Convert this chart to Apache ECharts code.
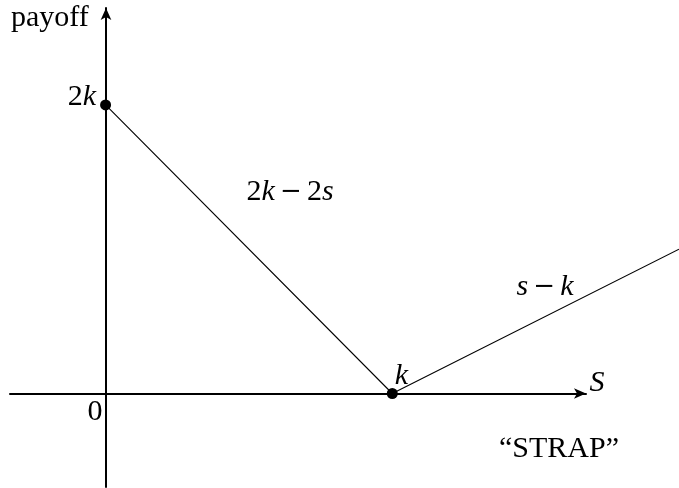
<!DOCTYPE html>
<html>
<head>
<meta charset="utf-8">
<script src="https://cdn.jsdelivr.net/npm/echarts@6/dist/echarts.min.js"></script>
<style>
  html, body { margin: 0; padding: 0; background: #fff; }
  #main { width: 679px; height: 488px; }
</style>
</head>
<body>
<div id="main"></div>
<script>
// payoff of a strap, with k = 1
const payoffS = [0, 1, 2];
const payoffY = [2, 0, 1];
const keyPoints = [
  { x: 0, y: 2, label: "{n|2}{i|k}", pos: "left" },
  { x: 1, y: 0, label: "{i|k}", pos: "top" },
];

const serif = "'Liberation Serif', 'DejaVu Serif', serif";
const fs = 30;

const mathRich = {
  n: { fontFamily: serif, fontSize: fs, color: "#000" },
  i: { fontFamily: serif, fontSize: fs, fontStyle: "italic", color: "#000" },
  m: { fontFamily: "'DejaVu Serif', serif", fontSize: 26, color: "#000" },
};

const hiddenAxis = {
  type: "value",
  axisLine: { show: false },
  axisTick: { show: false },
  axisLabel: { show: false },
  splitLine: { show: false },
};

const drawnAxis = {
  type: "value",
  axisLine: {
    onZero: true,
    symbol: ["none", "arrow"],
    symbolSize: [8, 12],
    lineStyle: { color: "#000", width: 2 },
  },
  axisTick: { show: false },
  axisLabel: { show: false },
  splitLine: { show: false },
};

const chart = echarts.init(document.getElementById("main"));

const options = {
  backgroundColor: "#fff",
  animation: false,
  grid: [
    // grid 0 carries the arrowed axes, grid 1 the payoff line (same scale)
    { left: 10, width: 576, top: 8, height: 479 },
    { left: 10, width: 672, top: 8, height: 479 },
  ],
  xAxis: [
    { ...drawnAxis, gridIndex: 0, min: -1 / 3, max: 5 / 3 },
    { ...hiddenAxis, gridIndex: 1, min: -1 / 3, max: 2 },
  ],
  yAxis: [
    { ...drawnAxis, gridIndex: 0, min: -0.648, max: 2.672 },
    { ...hiddenAxis, gridIndex: 1, min: -0.648, max: 2.672 },
  ],
  series: [
    {
      type: "line",
      xAxisIndex: 1,
      yAxisIndex: 1,
      data: payoffS.map((s, i) => [s, payoffY[i]]),
      clip: false,
      showSymbol: false,
      lineStyle: { color: "#000", width: 1.1 },
      z: 3,
    },
    {
      type: "scatter",
      xAxisIndex: 1,
      yAxisIndex: 1,
      data: keyPoints.map((p) => ({
        value: [p.x, p.y],
        label: {
          show: true,
          position: p.pos,
          distance: p.pos === "left" ? 4 : 1,
          offset: p.pos === "top" ? [9, 4] : [0, -8],
          formatter: p.label,
          color: "#000",
          rich: mathRich,
        },
      })),
      symbol: "circle",
      symbolSize: 11,
      itemStyle: { color: "#000", opacity: 1 },
      z: 4,
    },
  ],
  graphic: [
    {
      type: "text",
      x: 11,
      y: 18,
      style: { text: "payoff", font: fs + "px " + serif, fill: "#000", align: "left", verticalAlign: "middle" },
    },
    {
      type: "text",
      x: 95,
      y: 412,
      style: { text: "0", font: fs + "px " + serif, fill: "#000", align: "center", verticalAlign: "middle" },
    },
    {
      type: "text",
      x: 597,
      y: 383,
      style: { text: "S", font: "italic " + fs + "px " + serif, fill: "#000", align: "center", verticalAlign: "middle" },
    },
    {
      type: "text",
      x: 290,
      y: 192,
      style: {
        text: "{n|2}{i|k}{m|\u2009\u2212\u2009}{n|2}{i|s}",
        rich: mathRich,
        align: "center",
        verticalAlign: "middle",
      },
    },
    {
      type: "text",
      x: 545,
      y: 287,
      style: {
        text: "{i|s}{m|\u2009\u2212\u2009}{i|k}",
        rich: mathRich,
        align: "center",
        verticalAlign: "middle",
      },
    },
    {
      type: "text",
      x: 559,
      y: 449,
      style: { text: "\u201CSTRAP\u201D", font: fs + "px " + serif, fill: "#000", align: "center", verticalAlign: "middle" },
    },
  ],
};

chart.setOption(options);
</script>
</body>
</html>
